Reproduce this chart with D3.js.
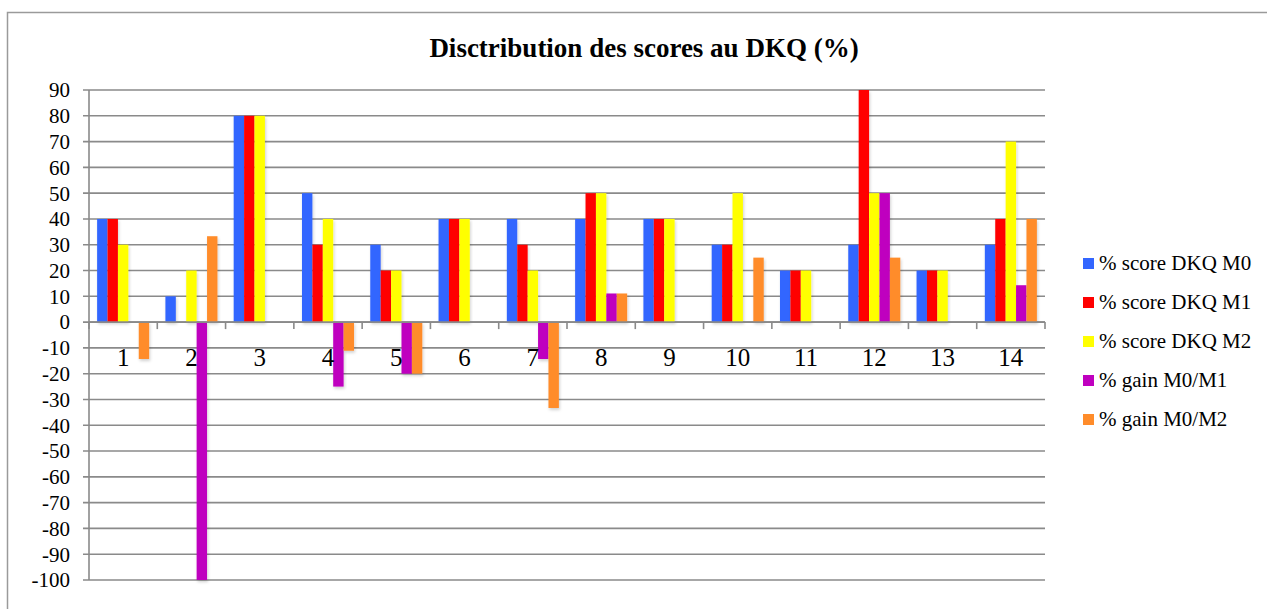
<!DOCTYPE html>
<html><head><meta charset="utf-8">
<script src="https://cdn.jsdelivr.net/npm/d3@7"></script>
<style>body{margin:0;background:#fff}svg{display:block}svg text{font-family:"Liberation Serif","Times New Roman",Times,"DejaVu Serif",serif}</style>
</head><body>
<svg id="c" width="1267" height="609"></svg>
<script>
const categories = ["1","2","3","4","5","6","7","8","9","10","11","12","13","14"];
const seriesNames = ["% score DKQ M0","% score DKQ M1","% score DKQ M2","% gain M0/M1","% gain M0/M2"];
const scoreM0 = [40,10,80,50,30,40,40,40,40,30,20,30,20,30];
const scoreM1 = [40,0,80,30,20,40,30,50,40,30,20,90,20,40];
const scoreM2 = [30,20,80,40,20,40,20,50,40,50,20,50,20,70];
const gainM0M1 = [0,-100,0,-25,-20,0,-14.3,11.1,0,0,0,50,0,14.3];
const gainM0M2 = [-14.3,33.3,0,-11.1,-20,0,-33.3,11.1,0,25,0,25,0,40];
const yTicks = [90,80,70,60,50,40,30,20,10,0,-10,-20,-30,-40,-50,-60,-70,-80,-90,-100];
const colors = ["#3366FF","#FF0000","#FFFF00","#BF00BF","#FF8C2A"];
const seriesValues = [scoreM0, scoreM1, scoreM2, gainM0M1, gainM0M2];

const svg = d3.select("#c");

// outer border
svg.append("path").attr("d","M7.5,609 V12.5 H1267").attr("fill","none").attr("stroke","#9a9a9a").attr("stroke-width",1.5);

const defs = svg.append("defs");
const f = defs.append("filter").attr("id","sh").attr("x","-30%").attr("y","-10%").attr("width","160%").attr("height","130%");
f.append("feDropShadow").attr("dx",1).attr("dy",2).attr("stdDeviation",1.5).attr("flood-color","#000").attr("flood-opacity",0.18);

const left = 89, right = 1045;
const x = d3.scaleBand().domain(categories).range([left, right]);
const x1 = d3.scaleBand().domain(d3.range(5)).range([0, x.bandwidth()]).paddingOuter(0.78);
const y = d3.scaleLinear().domain([-100, 90]).range([580, 90]);

// gridlines
svg.append("g").selectAll("line").data(yTicks).join("line")
  .attr("x1", left-6).attr("x2", right)
  .attr("y1", d=>y(d)).attr("y2", d=>y(d))
  .attr("stroke","#8a8a8a").attr("stroke-width",1.6);

// y axis line
svg.append("line").attr("x1",left).attr("x2",left).attr("y1",y(90)).attr("y2",y(-100)).attr("stroke","#8a8a8a").attr("stroke-width",1.6);

// y labels
svg.append("g").selectAll("text").data(yTicks).join("text")
  .attr("x", 70).attr("y", d=>y(d)).attr("dy","0.35em")
  .attr("text-anchor","end").attr("font-size",21).attr("fill","#000")
  .text(d=>d);

// bars
const groups = svg.append("g").selectAll("g").data(categories).join("g")
  .attr("transform", c=>`translate(${x(c)},0)`);
groups.selectAll("rect").data((c,i)=>seriesValues.map((s,k)=>({k, v:s[i]})).filter(d=>d.v!==0)).join("rect")
  .attr("x", d=>x1(d.k)).attr("width", x1.bandwidth())
  .attr("y", d=>y(Math.max(0,d.v))).attr("height", d=>Math.abs(y(d.v)-y(0)))
  .attr("fill", d=>colors[d.k]).attr("filter","url(#sh)");

// x axis ticks at band boundaries
const bounds = categories.map(c=>x(c)).concat([right]);
svg.append("g").selectAll("line").data(bounds).join("line")
  .attr("x1",d=>d).attr("x2",d=>d).attr("y1",y(0)).attr("y2",y(0)+7)
  .attr("stroke","#8a8a8a").attr("stroke-width",1.6);
svg.append("line").attr("x1",left).attr("x2",right).attr("y1",y(0)).attr("y2",y(0)).attr("stroke","#8a8a8a").attr("stroke-width",1.6);

// category labels
svg.append("g").selectAll("text").data(categories).join("text")
  .attr("x", c=>x(c)+x.bandwidth()/2).attr("y", 357).attr("dy","0.35em")
  .attr("text-anchor","middle").attr("font-size",25).attr("fill","#000")
  .text(c=>c);

// title
svg.append("text").attr("x",644).attr("y",57).attr("text-anchor","middle")
  .attr("font-weight","bold").attr("font-size",27).attr("fill","#000")
  .text("Disctribution des scores au DKQ (%)");

// legend
const lg = svg.append("g").selectAll("g").data(seriesNames).join("g")
  .attr("transform",(d,i)=>`translate(1083,${263+i*39})`);
lg.append("rect").attr("x",0).attr("y",-5).attr("width",11).attr("height",11).attr("fill",(d,i)=>colors[i]);
lg.append("text").attr("x",16).attr("y",0).attr("dy","0.35em").attr("font-size",21).attr("fill","#000").text(d=>d);
</script>
</body></html>
